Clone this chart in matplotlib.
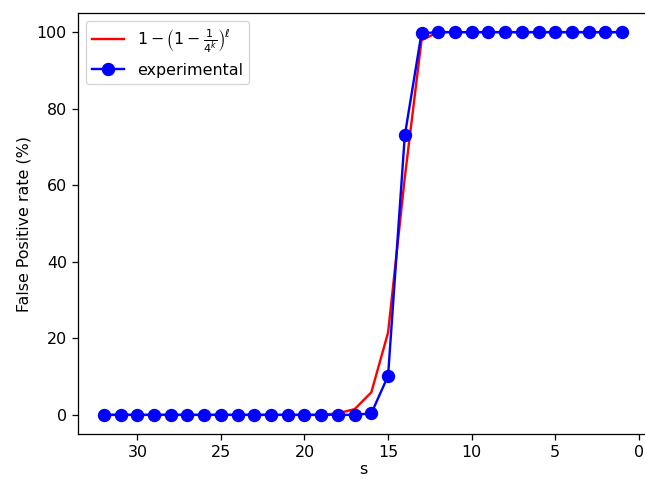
#!/usr/bin/env python3
# -*- coding: utf-8 -*-

import matplotlib
matplotlib.use("Agg")
import matplotlib.pyplot as plt

# ----------------------------
# Data
# ----------------------------

s_values = list(range(32, 0, -1))

# theoretical 1-(1-1/4^k)^l, in percent
theory = [0.0] * 14 + [0.4, 1.5, 5.9, 21.5, 62.0, 97.9] + [100.0] * 12

# experimental false positive rate, in percent
experimental = [0.0] * 16 + [0.4, 10.2, 73.0, 99.7] + [100.0] * 12

# ----------------------------
# Style (scaled to the reference size)
# ----------------------------

scale = 1.145
plt.rcParams.update({
    "font.size": 10 * scale,
    "lines.linewidth": 1.5 * scale,
    "lines.markersize": 8.6,
    "axes.linewidth": 0.8 * scale,
    "xtick.major.size": 3.5 * scale,
    "ytick.major.size": 3.5 * scale,
    "xtick.major.width": 0.8 * scale,
    "ytick.major.width": 0.8 * scale,
    "xtick.major.pad": 3.5 * scale,
    "ytick.major.pad": 3.5 * scale,
})

W, H = 645, 479
fig = plt.figure(figsize=(W / 100, H / 100), dpi=100)
# reference is a crop: right spine sits just past the edge
ax = fig.add_axes([78 / W, (H - 434) / H, (648 - 78) / W, (434 - 13) / H])

ax.plot(s_values, theory, color="red", label=r"$1-\left(1-\frac{1}{4^k}\right)^\ell$")
ax.plot(s_values, experimental, color="blue", marker="o", label="experimental")

ax.set_xlim(33.55, -0.55)
ax.set_xlabel("s", labelpad=1)
ax.set_ylabel("False Positive rate (%)")
ax.legend(loc="upper left")

fig.savefig("out.png", dpi=100)
